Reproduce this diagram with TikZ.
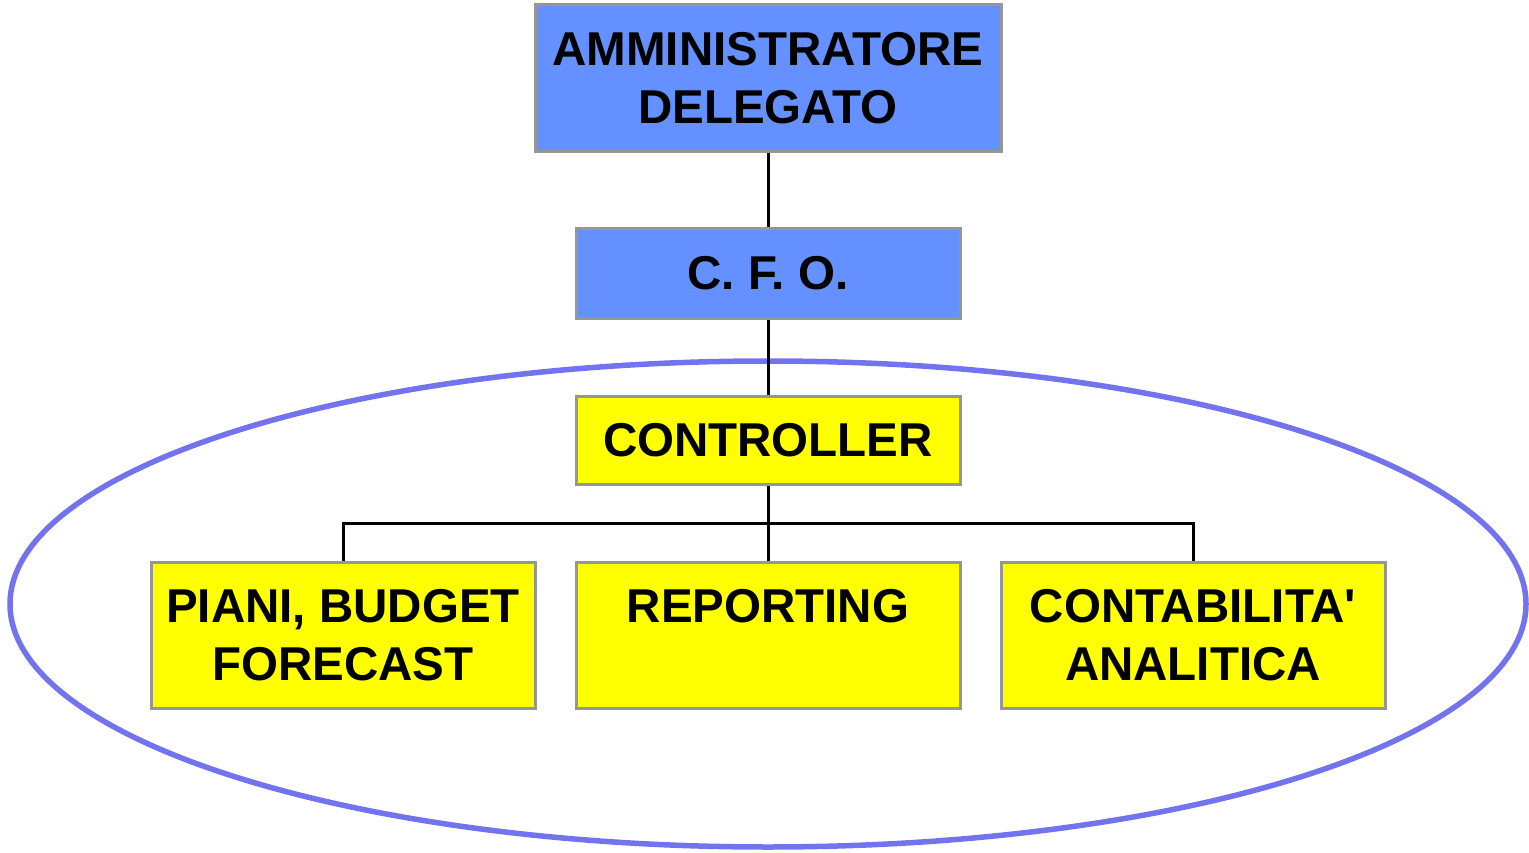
\documentclass[tikz,border=0pt]{standalone}
\usepackage{fontspec}
\setmainfont{Liberation Sans}
\usetikzlibrary{shapes.geometric}
\definecolor{bluebox}{RGB}{100,145,255}
\definecolor{yelbox}{RGB}{255,255,0}
\definecolor{boxline}{RGB}{150,150,150}
\definecolor{ellline}{RGB}{115,115,238}
\tikzset{
  orgbox/.style={draw=boxline, line width=3pt, inner sep=0pt, align=center,
    font=\fontsize{47.5}{58}\selectfont\bfseries, text=black},
  bluecell/.style={orgbox, fill=bluebox},
  yelcell/.style={orgbox, fill=yelbox},
  link/.style={draw=black, line width=3pt},
}
\begin{document}
\begin{tikzpicture}[x=1pt,y=-1pt]
\useasboundingbox (0,0) rectangle (1529,853);
\node[draw=ellline, line width=5.5pt, ellipse, minimum width=1516pt, minimum height=486pt, inner sep=0pt] (ell) at (768,604) {};
\node[bluecell, minimum width=466pt, minimum height=147pt] (ad) at (768,78.5) {AMMINISTRATORE\\DELEGATO};
\node[bluecell, minimum width=384pt, minimum height=89pt] (cfo) at (768,273.5) {C. F. O.};
\node[yelcell, minimum width=384pt, minimum height=88pt] (ctrl) at (768,440) {CONTROLLER};
\node[yelcell, minimum width=384pt, minimum height=146pt] (piani) at (343,635) {PIANI, BUDGET\\FORECAST};
\node[yelcell, minimum width=384pt, minimum height=146pt] (rep) at (768,635) {REPORTING\\\phantom{X}};
\node[yelcell, minimum width=384pt, minimum height=146pt] (cont) at (1193,635) {CONTABILITA\textquotesingle\\ANALITICA};
\coordinate (bus) at (768,523);
\draw[link] (ad.south) -- (cfo.north);
\draw[link] (cfo.south) -- (ctrl.north);
\draw[link] (ctrl.south) -- (rep.north);
\draw[link] (piani.north) |- (bus) -| (cont.north);
\end{tikzpicture}
\end{document}
